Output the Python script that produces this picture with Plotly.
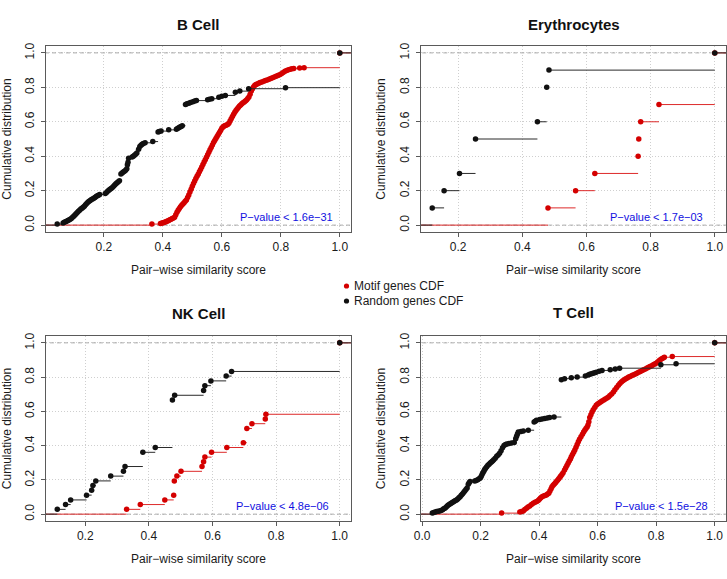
import plotly.graph_objects as go

# ---------------- data ----------------
panel_titles = ["B Cell", "Erythrocytes", "NK Cell", "T Cell"]
pvalue_labels = ["P\u2212value < 1.6e\u221231", "P\u2212value < 1.7e\u221203",
                 "P\u2212value < 4.8e\u221206", "P\u2212value < 1.5e\u221228"]
series_names = ["Motif genes CDF", "Random genes CDF"]
x_title = "Pair\u2212wise similarity score"
y_title = "Cumulative distribution"

bcell_random_x = [0.042, 0.062, 0.066, 0.070, 0.074, 0.078, 0.082, 0.086, 0.090, 0.094, 0.098, 0.102, 0.106,
                  0.110, 0.114, 0.118, 0.122, 0.126, 0.130, 0.134, 0.138, 0.142, 0.146, 0.150, 0.154, 0.158,
                  0.162, 0.166, 0.170, 0.174, 0.178, 0.182, 0.186, 0.205, 0.209, 0.213, 0.217, 0.221, 0.225,
                  0.229, 0.233, 0.237, 0.241, 0.245, 0.249, 0.253, 0.258, 0.262, 0.266, 0.270, 0.274, 0.278,
                  0.280, 0.282, 0.284, 0.296, 0.300, 0.304, 0.308, 0.312, 0.318, 0.322, 0.326, 0.330, 0.334,
                  0.340, 0.366, 0.384, 0.388, 0.394, 0.420, 0.446, 0.450, 0.454, 0.458, 0.462, 0.466, 0.477,
                  0.482, 0.488, 0.494, 0.502, 0.508, 0.514, 0.552, 0.558, 0.566, 0.590, 0.600, 0.612, 0.646,
                  0.661, 0.691, 0.816, 1.0]
bcell_random_y = [0.006, 0.012, 0.016, 0.020, 0.023, 0.027, 0.030, 0.034, 0.039, 0.046, 0.052, 0.059, 0.066,
                  0.073, 0.080, 0.087, 0.093, 0.098, 0.104, 0.110, 0.118, 0.126, 0.133, 0.138, 0.143, 0.148,
                  0.152, 0.156, 0.161, 0.166, 0.170, 0.174, 0.178, 0.183, 0.190, 0.197, 0.203, 0.208, 0.213,
                  0.219, 0.226, 0.233, 0.240, 0.246, 0.252, 0.257, 0.297, 0.303, 0.308, 0.313, 0.319, 0.327,
                  0.350, 0.365, 0.388, 0.395, 0.400, 0.406, 0.412, 0.418, 0.440, 0.456, 0.464, 0.470, 0.474,
                  0.478, 0.485, 0.540, 0.543, 0.546, 0.553, 0.557, 0.561, 0.565, 0.569, 0.573, 0.577, 0.700,
                  0.704, 0.708, 0.712, 0.717, 0.720, 0.723, 0.728, 0.731, 0.734, 0.743, 0.748, 0.753, 0.772,
                  0.778, 0.792, 0.798, 1.0]

bcell_motif_x = [0.363, 0.392, 0.396, 0.400, 0.404, 0.408, 0.412, 0.416, 0.420, 0.424, 0.428, 0.432, 0.436,
                 0.440, 0.444, 0.448, 0.452, 0.456, 0.460, 0.464, 0.468, 0.472, 0.476, 0.480, 0.484, 0.488,
                 0.492, 0.496, 0.500, 0.504, 0.508, 0.512, 0.516, 0.520, 0.524, 0.528, 0.532, 0.536, 0.540,
                 0.544, 0.548, 0.552, 0.556, 0.560, 0.564, 0.568, 0.572, 0.576, 0.580, 0.584, 0.588, 0.592,
                 0.596, 0.600, 0.604, 0.608, 0.612, 0.616, 0.620, 0.624, 0.628, 0.632, 0.636, 0.640, 0.644,
                 0.648, 0.652, 0.656, 0.660, 0.664, 0.668, 0.672, 0.676, 0.680, 0.684, 0.688, 0.692, 0.696,
                 0.700, 0.704, 0.708, 0.712, 0.716, 0.720, 0.725, 0.730, 0.736, 0.742, 0.748, 0.754, 0.760,
                 0.766, 0.772, 0.778, 0.784, 0.790, 0.796, 0.802, 0.808, 0.814, 0.820, 0.826, 0.832, 0.838,
                 0.844, 0.864, 0.879, 1.0]
bcell_motif_y = [0.006, 0.009, 0.011, 0.013, 0.015, 0.018, 0.021, 0.024, 0.027, 0.031, 0.034, 0.038, 0.041,
                 0.045, 0.060, 0.075, 0.087, 0.097, 0.107, 0.115, 0.122, 0.130, 0.138, 0.146, 0.160, 0.175,
                 0.192, 0.208, 0.225, 0.242, 0.256, 0.270, 0.283, 0.296, 0.310, 0.323, 0.338, 0.352, 0.366,
                 0.380, 0.394, 0.408, 0.423, 0.437, 0.451, 0.465, 0.479, 0.492, 0.503, 0.514, 0.526, 0.538,
                 0.550, 0.562, 0.570, 0.575, 0.578, 0.581, 0.584, 0.592, 0.604, 0.617, 0.630, 0.643, 0.655,
                 0.665, 0.674, 0.683, 0.691, 0.698, 0.705, 0.710, 0.715, 0.720, 0.727, 0.735, 0.744, 0.760,
                 0.778, 0.792, 0.804, 0.812, 0.816, 0.820, 0.824, 0.828, 0.831, 0.835, 0.839, 0.843, 0.847,
                 0.851, 0.856, 0.860, 0.864, 0.868, 0.873, 0.879, 0.886, 0.893, 0.898, 0.902, 0.905, 0.908,
                 0.910, 0.912, 0.914, 1.0]

ery_random_x = [0.119, 0.156, 0.204, 0.254, 0.447, 0.476, 0.483, 1.0]
ery_random_y = [0.1, 0.2, 0.3, 0.5, 0.6, 0.8, 0.9, 1.0]
ery_motif_x = [0.480, 0.566, 0.626, 0.761, 0.763, 0.769, 0.826, 1.0]
ery_motif_y = [0.1, 0.2, 0.3, 0.4, 0.5, 0.6, 0.7, 1.0]

nk_random_x = [0.112, 0.138, 0.154, 0.204, 0.220, 0.224, 0.233, 0.280, 0.320, 0.325, 0.381, 0.420,
               0.474, 0.481, 0.572, 0.576, 0.595, 0.643, 0.660, 1.0]
nk_random_y = [0.028, 0.056, 0.083, 0.111, 0.139, 0.167, 0.194, 0.222, 0.250, 0.278, 0.361, 0.389,
               0.667, 0.694, 0.722, 0.750, 0.778, 0.806, 0.833, 1.0]
nk_motif_x = [0.330, 0.373, 0.450, 0.478, 0.480, 0.488, 0.501, 0.567, 0.572, 0.576, 0.597, 0.645,
              0.697, 0.708, 0.724, 0.766, 0.768, 1.0]
nk_motif_y = [0.028, 0.056, 0.083, 0.111, 0.194, 0.222, 0.250, 0.278, 0.306, 0.333, 0.361, 0.389,
              0.417, 0.500, 0.528, 0.556, 0.583, 1.0]

tcell_random_x = [0.035, 0.040, 0.045, 0.050, 0.055, 0.060, 0.065, 0.070, 0.074, 0.078, 0.082, 0.086, 0.090,
                  0.094, 0.098, 0.102, 0.106, 0.110, 0.114, 0.118, 0.122, 0.126, 0.130, 0.134, 0.138, 0.142,
                  0.146, 0.150, 0.154, 0.158, 0.161, 0.164, 0.180, 0.185, 0.190, 0.195, 0.199, 0.202, 0.205,
                  0.208, 0.211, 0.214, 0.217, 0.221, 0.225, 0.229, 0.233, 0.237, 0.241, 0.245, 0.250, 0.255,
                  0.260, 0.265, 0.270, 0.275, 0.280, 0.285, 0.290, 0.297, 0.306, 0.315, 0.320, 0.323, 0.326,
                  0.329, 0.338, 0.346, 0.363, 0.383, 0.387, 0.391, 0.402, 0.410, 0.419, 0.428, 0.436, 0.451,
                  0.476, 0.487, 0.510, 0.530, 0.558, 0.568, 0.573, 0.579, 0.584, 0.590, 0.595, 0.605, 0.615,
                  0.643, 0.660, 0.675, 0.816, 0.868, 1.0]
tcell_random_y = [0.006, 0.009, 0.012, 0.015, 0.017, 0.019, 0.021, 0.026, 0.031, 0.035, 0.041, 0.047, 0.054,
                  0.058, 0.062, 0.066, 0.071, 0.075, 0.079, 0.083, 0.089, 0.096, 0.102, 0.110, 0.118, 0.126,
                  0.135, 0.144, 0.153, 0.175, 0.184, 0.190, 0.194, 0.197, 0.201, 0.206, 0.211, 0.220, 0.232,
                  0.242, 0.250, 0.260, 0.268, 0.276, 0.285, 0.292, 0.299, 0.305, 0.311, 0.318, 0.326, 0.338,
                  0.346, 0.356, 0.370, 0.388, 0.401, 0.406, 0.410, 0.413, 0.415, 0.418, 0.440, 0.455, 0.468,
                  0.479, 0.482, 0.485, 0.490, 0.538, 0.543, 0.548, 0.552, 0.555, 0.558, 0.561, 0.564, 0.567,
                  0.785, 0.791, 0.797, 0.800, 0.806, 0.812, 0.816, 0.820, 0.823, 0.826, 0.829, 0.834, 0.839,
                  0.843, 0.847, 0.852, 0.872, 0.878, 1.0]

tcell_motif_x = [0.272, 0.334, 0.340, 0.346, 0.351, 0.357, 0.362, 0.368, 0.374, 0.380, 0.386, 0.392, 0.397,
                 0.401, 0.405, 0.410, 0.415, 0.420, 0.425, 0.429, 0.433, 0.437, 0.441, 0.444, 0.448, 0.452,
                 0.456, 0.459, 0.463, 0.467, 0.471, 0.474, 0.478, 0.482, 0.487, 0.491, 0.495, 0.499, 0.503,
                 0.507, 0.510, 0.514, 0.518, 0.522, 0.526, 0.530, 0.534, 0.538, 0.543, 0.548, 0.552, 0.556,
                 0.560, 0.564, 0.567, 0.570, 0.573, 0.577, 0.581, 0.585, 0.590, 0.595, 0.600, 0.605, 0.610,
                 0.615, 0.621, 0.626, 0.632, 0.637, 0.642, 0.648, 0.654, 0.659, 0.665, 0.671, 0.676, 0.681,
                 0.686, 0.691, 0.696, 0.701, 0.706, 0.711, 0.717, 0.723, 0.729, 0.734, 0.740, 0.746, 0.752,
                 0.757, 0.763, 0.769, 0.774, 0.779, 0.785, 0.790, 0.795, 0.800, 0.805, 0.810, 0.814, 0.819,
                 0.824, 0.828, 0.855, 1.0]
tcell_motif_y = [0.006, 0.013, 0.016, 0.019, 0.027, 0.035, 0.042, 0.048, 0.056, 0.064, 0.069, 0.074, 0.079,
                 0.087, 0.095, 0.102, 0.106, 0.109, 0.112, 0.117, 0.122, 0.135, 0.148, 0.160, 0.168, 0.176,
                 0.184, 0.190, 0.198, 0.207, 0.215, 0.223, 0.232, 0.241, 0.258, 0.271, 0.284, 0.297, 0.310,
                 0.322, 0.335, 0.348, 0.361, 0.374, 0.390, 0.406, 0.422, 0.437, 0.452, 0.466, 0.480, 0.490,
                 0.500, 0.509, 0.520, 0.540, 0.564, 0.581, 0.597, 0.610, 0.623, 0.636, 0.643, 0.649, 0.655,
                 0.660, 0.666, 0.672, 0.678, 0.684, 0.692, 0.702, 0.713, 0.726, 0.739, 0.752, 0.763, 0.772,
                 0.779, 0.785, 0.790, 0.795, 0.800, 0.804, 0.809, 0.814, 0.818, 0.823, 0.828, 0.833, 0.838,
                 0.843, 0.848, 0.853, 0.857, 0.862, 0.867, 0.872, 0.876, 0.881, 0.888, 0.895, 0.901, 0.907,
                 0.912, 0.916, 0.920, 1.0]

cdf_levels = [0.0, 1.0]   # R's plot.ecdf reference lines

# ---------------- styling / layout ----------------
W, H = 727, 579
FONT = "Liberation Sans, Arial, Helvetica, sans-serif"
RED = "#d40000"
RED_LINE = "#dd2a2a"
BLACK = "#111111"
BLACK_LINE = "#2a2a2a"

panels = [
    dict(rx=bcell_random_x, ry=bcell_random_y, mx=bcell_motif_x, my=bcell_motif_y,
         box=(46, 351, 46, 232), xrange=(0.004, 1.038), ticks=[0.2, 0.4, 0.6, 0.8, 1.0]),
    dict(rx=ery_random_x, ry=ery_random_y, mx=ery_motif_x, my=ery_motif_y,
         box=(421, 726, 46, 232), xrange=(0.084, 1.035), ticks=[0.2, 0.4, 0.6, 0.8, 1.0]),
    dict(rx=nk_random_x, ry=nk_random_y, mx=nk_motif_x, my=nk_motif_y,
         box=(46, 351, 336, 521), xrange=(0.0765, 1.0355), ticks=[0.2, 0.4, 0.6, 0.8, 1.0]),
    dict(rx=tcell_random_x, ry=tcell_random_y, mx=tcell_motif_x, my=tcell_motif_y,
         box=(421, 726, 336, 521), xrange=(-0.0036, 1.0386), ticks=[0.0, 0.2, 0.4, 0.6, 0.8, 1.0]),
]
title_pos = [(198.5, 24), (573.5, 24), (198.5, 313), (573.5, 312)]
pvalue_pos = [(286, 217), (656.5, 217), (282.5, 506), (661.5, 506)]
YRANGE = (-0.04, 1.04)


def step_segments(xs, ys, xlo, xhi):
    """Horizontal pieces of an ECDF step function (no verticals), like R's plot.ecdf."""
    sx, sy = [xlo, xs[0], None], [0, 0, None]
    for i in range(len(xs)):
        x_end = xs[i + 1] if i + 1 < len(xs) else xhi
        sx += [xs[i], x_end, None]
        sy += [ys[i], ys[i], None]
    return sx, sy


fig = go.Figure()
layout = dict(width=W, height=H, margin=dict(l=0, r=0, t=0, b=0, pad=0),
              paper_bgcolor="white", plot_bgcolor="white", showlegend=False, hovermode=False,
              font=dict(family=FONT, size=12, color="#1a1a1a"))
shapes, annotations = [], []

for k, p in enumerate(panels):
    sfx = "" if k == 0 else str(k + 1)
    xa, ya = "x" + sfx, "y" + sfx
    x0, x1, yt, yb = p["box"]
    xlo, xhi = p["xrange"]
    # dashed reference lines at F = 0 and F = 1
    for lv in cdf_levels:
        fig.add_trace(go.Scatter(x=[xlo - 1, xhi + 1], y=[lv, lv], mode="lines", xaxis=xa, yaxis=ya,
                                 line=dict(color="#ababab", width=1, dash="4px,3px"),
                                 hoverinfo="skip"))
    # motif (red) first, random (black) drawn on top
    for xs, ys, lc, mc, name in [(p["mx"], p["my"], RED_LINE, RED, series_names[0]),
                                 (p["rx"], p["ry"], BLACK_LINE, BLACK, series_names[1])]:
        sx, sy = step_segments(xs, ys, xlo - 1, xhi + 1)
        fig.add_trace(go.Scatter(x=sx, y=sy, mode="lines", xaxis=xa, yaxis=ya, name=name,
                                 line=dict(color=lc, width=1), hoverinfo="skip"))
        fig.add_trace(go.Scatter(x=xs, y=ys, mode="markers", xaxis=xa, yaxis=ya, name=name,
                                 marker=dict(color=mc, size=5.5, line=dict(width=0))))
    axis_common = dict(showline=True, mirror=True, linecolor="#5a5a5a", linewidth=1,
                       ticks="outside", ticklen=4, tickcolor="#5a5a5a", tickwidth=1,
                       showgrid=True, gridcolor="#cfcfcf", griddash="1px,2px", gridwidth=1,
                       zeroline=False, tickfont=dict(size=12, color="#1a1a1a"),
                       tickformat=".1f", automargin=False, fixedrange=True)
    layout["xaxis" + sfx] = dict(axis_common, domain=[x0 / W, x1 / W], range=list(p["xrange"]),
                                 tickvals=p["ticks"], anchor=ya,
                                 title=dict(text=x_title, font=dict(size=12), standoff=12))
    layout["yaxis" + sfx] = dict(axis_common, domain=[1 - yb / H, 1 - yt / H], range=list(YRANGE),
                                 tickvals=[0, 0.2, 0.4, 0.6, 0.8, 1.0], tickangle=-90, anchor=xa,
                                 ticklabelstandoff=2,
                                 title=dict(text=y_title, font=dict(size=12), standoff=10))
    tx, ty = title_pos[k]
    annotations.append(dict(text="<b>" + panel_titles[k] + "</b>", x=tx / W, y=1 - ty / H,
                            xref="paper", yref="paper", showarrow=False, xanchor="center",
                            yanchor="middle", font=dict(size=15, color="#111")))
    px_, py_ = pvalue_pos[k]
    annotations.append(dict(text=pvalue_labels[k], x=px_ / W, y=1 - py_ / H,
                            xref="paper", yref="paper", showarrow=False, xanchor="center",
                            yanchor="middle", font=dict(size=11, color="#1010e0")))

# legend drawn between the panels (as in the reference)
legend_rows = [(series_names[0], RED, 286), (series_names[1], BLACK, 301)]
for text, col, yy in legend_rows:
    shapes.append(dict(type="circle", xref="paper", yref="paper",
                       x0=(346.5 - 2.6) / W, x1=(346.5 + 2.6) / W,
                       y0=1 - (yy + 2.6) / H, y1=1 - (yy - 2.6) / H,
                       fillcolor=col, line=dict(width=0)))
    annotations.append(dict(text=text, x=351.5 / W, y=1 - yy / H, xref="paper", yref="paper",
                            showarrow=False, xanchor="left", yanchor="middle",
                            font=dict(size=12, color="#1a1a1a")))

layout["shapes"] = shapes
layout["annotations"] = annotations
fig.update_layout(**layout)
fig.write_html("out.html", config={"displayModeBar": False, "staticPlot": True},
               post_script="document.body.style.margin='0px';document.body.style.overflow='hidden';")
